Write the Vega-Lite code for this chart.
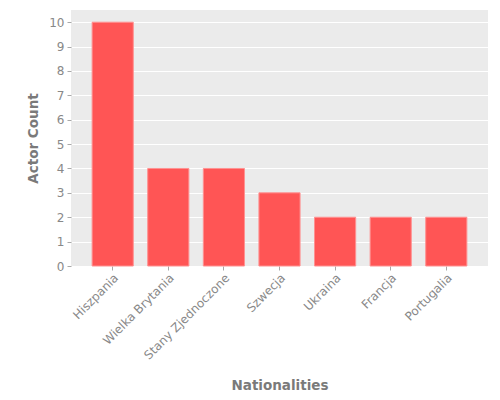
{
  "$schema": "https://vega.github.io/schema/vega-lite/v6.json",
  "width": 417,
  "height": 256,
  "autosize": "none",
  "padding": {"left": 71, "top": 10, "right": 12, "bottom": 134},
  "background": "white",
  "config": {
    "view": {"fill": "#EBEBEB", "stroke": null},
    "font": "DejaVu Sans",
    "axis": {
      "labelFont": "DejaVu Sans",
      "titleFont": "DejaVu Sans",
      "labelColor": "#888888",
      "titleColor": "#7a7a7a",
      "labelFontSize": 12,
      "titleFontSize": 13.5,
      "titleFontWeight": "bold",
      "tickColor": "#a8a8a8",
      "tickSize": 4,
      "domain": false
    }
  },
  "data": {
    "values": [
      {"nationality": "Hiszpania", "count": 10},
      {"nationality": "Wielka Brytania", "count": 4},
      {"nationality": "Stany Zjednoczone", "count": 4},
      {"nationality": "Szwecja", "count": 3},
      {"nationality": "Ukraina", "count": 2},
      {"nationality": "Francja", "count": 2},
      {"nationality": "Portugalia", "count": 2}
    ]
  },
  "mark": {"type": "bar", "fill": "#FF5555", "stroke": "#FF9090", "strokeWidth": 1},
  "encoding": {
    "x": {
      "field": "nationality",
      "type": "nominal",
      "sort": null,
      "title": "Nationalities",
      "scale": {"paddingInner": 0.26, "paddingOuter": 0.38},
      "axis": {
        "labelAngle": -45,
        "labelAlign": "right",
        "labelBaseline": "top",
        "labelPadding": 2,
        "grid": false,
        "titleY": 119,
        "titleBaseline": "middle"
      }
    },
    "y": {
      "field": "count",
      "type": "quantitative",
      "title": "Actor Count",
      "scale": {"domain": [0, 10.5], "nice": false},
      "axis": {
        "values": [0, 1, 2, 3, 4, 5, 6, 7, 8, 9, 10],
        "grid": true,
        "gridColor": "white",
        "gridWidth": 1.2,
        "labelPadding": 3,
        "titleX": -38,
        "titleY": 128,
        "titleAlign": "center",
        "titleBaseline": "middle"
      }
    }
  }
}
